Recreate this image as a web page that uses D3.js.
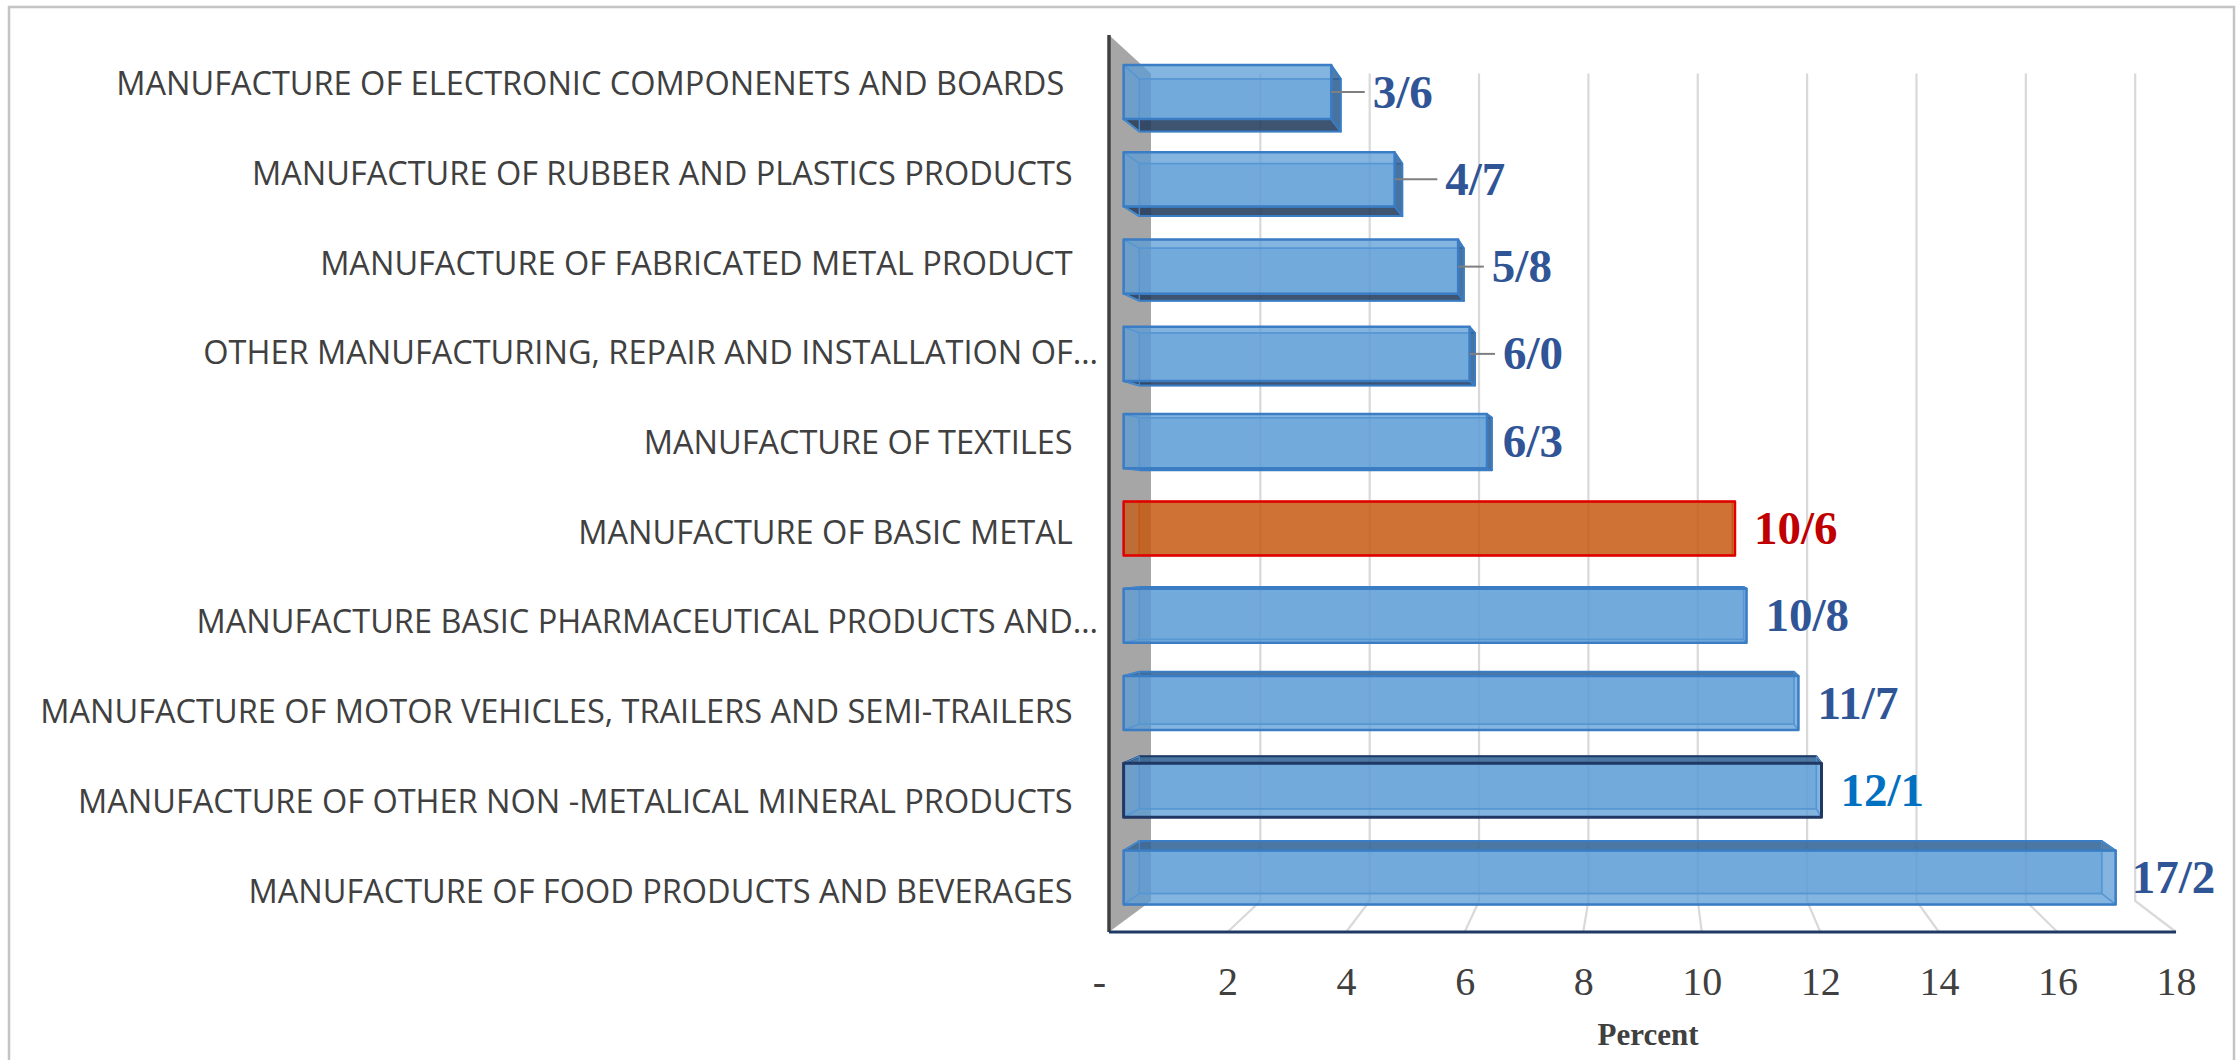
<!DOCTYPE html>
<html>
<head>
<meta charset="utf-8">
<script src="https://cdn.jsdelivr.net/npm/d3@7"></script>
<style>
    body { margin: 0; background: #fff; }
    svg { display: block; }
</style>
</head>
<body>
<div id="chart"></div>
<script>
// Data (top to bottom, as drawn)
const categories = [
    "MANUFACTURE OF ELECTRONIC COMPONENETS AND BOARDS    ",
    "MANUFACTURE OF RUBBER AND PLASTICS PRODUCTS   ",
    "MANUFACTURE OF FABRICATED METAL PRODUCT   ",
    "OTHER MANUFACTURING, REPAIR AND INSTALLATION OF…",
    "MANUFACTURE OF TEXTILES   ",
    "MANUFACTURE OF BASIC METAL   ",
    "MANUFACTURE BASIC PHARMACEUTICAL PRODUCTS AND…",
    "MANUFACTURE OF MOTOR VEHICLES, TRAILERS AND SEMI-TRAILERS   ",
    "MANUFACTURE OF OTHER NON -METALICAL MINERAL PRODUCTS   ",
    "MANUFACTURE OF FOOD PRODUCTS AND BEVERAGES   "
];
const values = [3.6, 4.7, 5.8, 6.0, 6.3, 10.6, 10.8, 11.7, 12.1, 17.2];
const xTicks = [0, 2, 4, 6, 8, 10, 12, 14, 16, 18];
const axisTitle = "Percent";

// Layout
const W = 2239, H = 1060;
const plot = { left: 1109, right: 2176, top: 35, bottom: 932 };
const VP = [1650, 532];            // vanishing point of the 3D view
const wallDepth = 0.9224;          // scale of the back wall
const barFront = 0.973, barBack = 0.944;
const labelGap = 18;
const labelNudge = [13, 24, 9, 9, -8, 0, 0, 0, 0, -3];

const proj = (px, py, s) => [VP[0] + (px - VP[0]) * s, VP[1] + (py - VP[1]) * s];

const svg = d3.select("#chart")
    .append("svg")
    .attr("width", W)
    .attr("height", H);

svg.append("rect")
    .attr("x", 9).attr("y", 7)
    .attr("width", 2225).attr("height", H)
    .attr("fill", "#fff")
    .attr("stroke", "#c4c4c4")
    .attr("stroke-width", 2.5);

const x = d3.scaleLinear()
    .domain([0, 18])
    .range([plot.left, plot.right]);

const y = d3.scaleBand()
    .domain(categories)
    .range([plot.top, plot.bottom])
    .paddingInner(0.38)
    .paddingOuter(0.19);

const line = d3.line();

// Side wall
svg.append("path")
    .attr("d", line([
        proj(x(0), plot.top, 1), proj(x(0), plot.top, wallDepth),
        proj(x(0), plot.bottom, wallDepth), proj(x(0), plot.bottom, 1)
    ]) + "Z")
    .attr("fill", "#a6a6a6");

// Gridlines on back wall and floor
svg.selectAll(".grid")
    .data(xTicks.filter(d => d > 0))
    .enter()
    .append("path")
    .attr("class", "grid")
    .attr("d", d => line([
        proj(x(d), plot.top, wallDepth),
        proj(x(d), plot.bottom, wallDepth),
        proj(x(d), plot.bottom, 1)
    ]))
    .attr("fill", "none")
    .attr("stroke", "#d9d9d9")
    .attr("stroke-width", 2.2);

// Axis lines
svg.append("line")
    .attr("x1", x(0)).attr("x2", x(0))
    .attr("y1", plot.top).attr("y2", plot.bottom)
    .attr("stroke", "#404040")
    .attr("stroke-width", 3.5);

svg.append("line")
    .attr("x1", x(0)).attr("x2", x(18))
    .attr("y1", plot.bottom).attr("y2", plot.bottom)
    .attr("stroke", "#1f3864")
    .attr("stroke-width", 3);

// Bar styles
function barStyle(i) {
    if (i === 5) {
        return { fill: "#c55a11", edge: "#e00000", inner: "#d0501a", top: "#9a3d0a", bottom: "#7a2e08", side: "#a84a10", label: "#c00000" };
    }
    return {
        fill: "#5b9bd5",
        edge: i === 8 ? "#1f3864" : "#3a7dc4",
        inner: "#4a8bcb",
        top: "#2f5f8f",
        bottom: "#1f3350",
        side: "#2a5a8c",
        label: i === 8 ? "#0070c0" : "#2f5597"
    };
}

const bars = svg.selectAll(".bar")
    .data(values)
    .enter()
    .append("g")
    .attr("class", "bar")
    .each(function(v, i) {
        const g = d3.select(this);
        const st = barStyle(i);
        const x0 = x(0), x1 = x(v);
        const y0 = y(categories[i]), y1 = y0 + y.bandwidth();
        const fTL = proj(x0, y0, barFront), fTR = proj(x1, y0, barFront),
              fBR = proj(x1, y1, barFront), fBL = proj(x0, y1, barFront);
        const bTL = proj(x0, y0, barBack), bTR = proj(x1, y0, barBack),
              bBR = proj(x1, y1, barBack), bBL = proj(x0, y1, barBack);

        // back face
        g.append("path")
            .attr("d", line([bTL, bTR, bBR, bBL]) + "Z")
            .attr("fill", st.fill).attr("fill-opacity", 0.4)
            .attr("stroke", st.inner).attr("stroke-width", 1.5);

        const sides = [
            { pts: [fTL, fTR, bTR, bTL], show: bTL[1] < fTL[1], color: st.top },
            { pts: [fBL, fBR, bBR, bBL], show: bBL[1] > fBL[1], color: st.bottom },
            { pts: [fTR, fBR, bBR, bTR], show: bTR[0] > fTR[0], color: st.side },
            { pts: [fTL, fBL, bBL, bTL], show: bTL[0] < fTL[0], color: st.side }
        ];
        sides.forEach(s => {
            g.append("path")
                .attr("d", line(s.pts) + "Z")
                .attr("fill", s.show ? s.color : "none")
                .attr("fill-opacity", 0.8)
                .attr("stroke", s.show ? st.edge : st.inner)
                .attr("stroke-width", s.show ? 2 : 1.3)
                .attr("stroke-linejoin", "round");
        });

        // front face
        g.append("path")
            .attr("d", line([fTL, fTR, fBR, fBL]) + "Z")
            .attr("fill", st.fill).attr("fill-opacity", 0.75)
            .attr("stroke", st.edge).attr("stroke-width", i === 8 ? 3 : 2.5)
            .attr("stroke-linejoin", "round");

        // value label
        const outer = Math.max(fTR[0], bTR[0]) + 1;
        const yc = proj(x1, y0 + y.bandwidth() / 2, barFront)[1];
        const lx = outer + labelGap + labelNudge[i];
        if (labelNudge[i] > 5) {
            g.append("path")
                .attr("d", line([[fTR[0], yc], [lx - 8, yc]]))
                .attr("stroke", "#7f7f7f")
                .attr("stroke-width", 2)
                .attr("fill", "none");
        }
        g.append("text")
            .attr("x", lx)
            .attr("y", yc)
            .attr("dy", "0.33em")
            .style("font-family", "'Liberation Serif', 'Times New Roman', serif")
            .style("font-weight", "bold")
            .style("font-size", "47px")
            .style("fill", st.label)
            .text(v.toFixed(1).replace(".", "/"));
    });

// Category labels
const yAxis = svg.append("g")
    .attr("transform", `translate(1098,5)`)
    .call(d3.axisLeft(y).tickSize(0).tickPadding(0));
yAxis.select(".domain").remove();
yAxis.selectAll("text")
    .style("font-family", "'Open Sans', sans-serif")
    .style("font-size", "32.5px")
    .style("fill", "#404040")
    .style("white-space", "pre");

// Value axis labels
const xAxis = svg.append("g")
    .attr("transform", `translate(0,${plot.bottom})`)
    .call(d3.axisBottom(x)
        .tickValues(xTicks)
        .tickFormat(d => d === 0 ? "-" : d)
        .tickSize(0)
        .tickPadding(35));
xAxis.select(".domain").remove();
xAxis.selectAll("text")
    .style("font-family", "'Liberation Serif', 'Times New Roman', serif")
    .style("font-size", "40px")
    .style("fill", "#404040");
xAxis.selectAll(".tick").filter(d => d === 0)
    .select("text").attr("dx", "-10");

svg.append("text")
    .attr("x", 1648)
    .attr("y", 1034)
    .attr("dy", "0.35em")
    .attr("text-anchor", "middle")
    .style("font-family", "'Liberation Serif', 'Times New Roman', serif")
    .style("font-weight", "bold")
    .style("font-size", "31px")
    .style("fill", "#404040")
    .text(axisTitle);
</script>
</body>
</html>
